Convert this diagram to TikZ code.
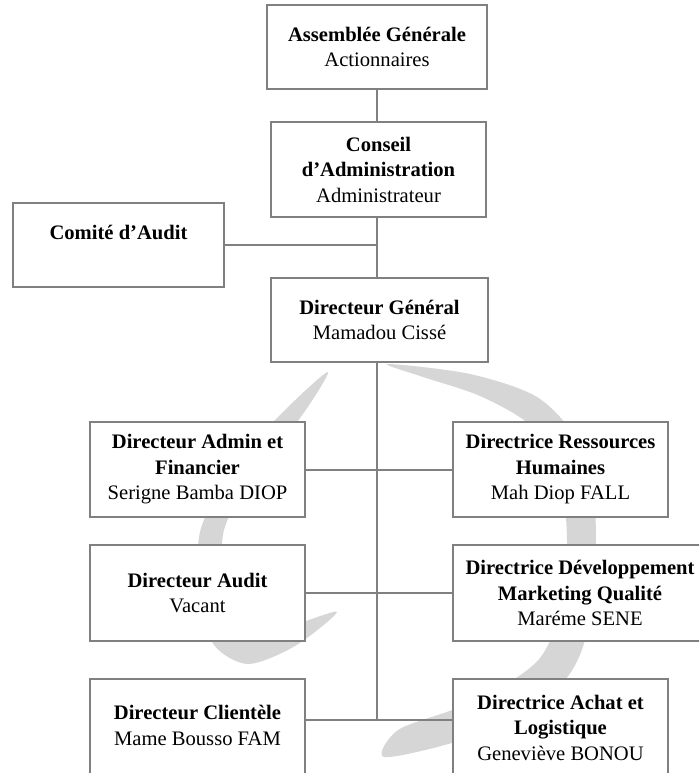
\documentclass[tikz,border=0pt]{standalone}
\usepackage{fontspec}
\setmainfont{Liberation Serif}
\definecolor{boxgray}{RGB}{128,128,128}
\definecolor{wmgray}{RGB}{214,214,214}
\tikzset{
  orgbox/.style={draw=boxgray, line width=2pt, fill=white, align=center, inner sep=0pt,
    font=\fontsize{20.6}{25.5}\selectfont},
  link/.style={draw=boxgray, line width=2pt},
  wm/.style={fill=wmgray}
}
\begin{document}
\begin{tikzpicture}[x={(1pt,0)}, y={(0,-1pt)}]
\path[use as bounding box, clip] (0,0) rectangle (699,773);
\fill[white] (0,0) rectangle (699,773);
% watermark
\fill[wm] plot[smooth cycle] coordinates {(328,372) (285,410) (232,468) (200,532) (200,600) (214,645) (248,664) (295,646) (337,612) (292,626) (256,638) (234,622) (224,578) (224,530) (252,474) (300,418)};
\fill[wm] plot[smooth cycle] coordinates {(388,364) (470,374) (537,397) (577,440) (594,500) (595,570) (585,640) (565,680) (520,715) (455,742) (384,757) (398,730) (452,710) (500,688) (540,658) (561,610) (567,540) (559,470) (530,425) (480,396) (420,376)};
% boxes
\node[orgbox, minimum width=220, minimum height=84] (ag) at (377,47) {\textbf{Assemblée Générale}\\Actionnaires};
\node[orgbox, minimum width=215, minimum height=95] (ca) at (378.5,169.5) {\textbf{Conseil}\\\textbf{d’Administration}\\Administrateur};
\node[orgbox, minimum width=211, minimum height=84] (cm) at (118.5,245) {\textbf{Comité d’Audit}\\~};
\node[orgbox, minimum width=217, minimum height=84] (dg) at (379.5,320) {\textbf{Directeur Général}\\Mamadou Cissé};
\node[orgbox, minimum width=215, minimum height=95] (daf) at (197.5,469.5) {\textbf{Directeur Admin et}\\\textbf{Financier}\\Serigne Bamba DIOP};
\node[orgbox, minimum width=215, minimum height=95] (rh) at (560.5,469.5) {\textbf{Directrice Ressources}\\\textbf{Humaines}\\Mah Diop FALL};
\node[orgbox, minimum width=215, minimum height=96] (da) at (197.5,593) {\textbf{Directeur Audit}\\Vacant};
\node[orgbox, minimum width=254, minimum height=96] (dd) at (580,593) {\textbf{Directrice Développement}\\\textbf{Marketing Qualité}\\Maréme SENE};
\node[orgbox, minimum width=215, minimum height=118] (dc) at (197.5,738) {\textbf{Directeur Clientèle}\\Mame Bousso FAM\\~};
\node[orgbox, minimum width=215, minimum height=123] (dal) at (560.5,740.5) {\textbf{Directrice Achat et}\\\textbf{Logistique}\\Geneviève BONOU\\~};
% connectors
\coordinate (jb) at (377,720);
\draw[link] (ag.south) -- (ag.south |- ca.north);
\draw[link] (ag.south |- ca.south) -- (ag.south |- dg.north);
\draw[link] (cm.east) -- (cm.east -| ag.south);
\draw[link] (ag.south |- dg.south) -- (jb);
\draw[link] (daf.east) -- (rh.west);
\draw[link] (da.east) -- (dd.west);
\draw[link] (jb -| dc.east) -- (jb -| dal.west);
\end{tikzpicture}
\end{document}
